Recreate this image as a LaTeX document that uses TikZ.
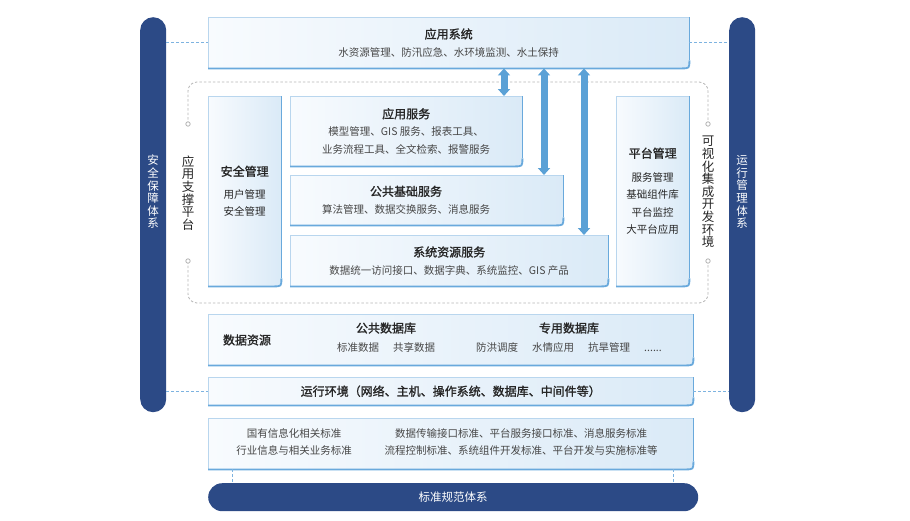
\documentclass[tikz,border=0pt]{standalone}
\usepackage{fontspec}
\setmainfont{Noto Sans CJK SC}
\newfontface\medfont{Noto Sans CJK SC}[FakeBold=1.4]
\usetikzlibrary{arrows.meta,backgrounds,positioning}

\definecolor{navy}{HTML}{2C4A86}
\definecolor{arrowblue}{HTML}{5BA1D6}
\definecolor{panelL}{HTML}{F8FBFE}
\definecolor{panelR}{HTML}{DAEAF7}
\definecolor{panelline}{HTML}{B9D6EE}
\definecolor{paneledge}{HTML}{69A9DC}
\definecolor{linkblue}{HTML}{7DB3E0}
\definecolor{dashgray}{HTML}{B5B5B5}
\definecolor{ttlc}{HTML}{262626}
\definecolor{itmc}{HTML}{474747}

\newcommand{\ttl}{\fontsize{12}{14}\medfont\color{ttlc}}
\tikzstyle{panel} = [rectangle, inner sep=0pt, anchor=north west, align=center,
    text=itmc, font=\fontsize{10.5}{17.5}\selectfont]
\tikzstyle{txt} = [inner sep=0pt, align=center, text=itmc, font=\fontsize{10.5}{17.5}\selectfont]
\tikzstyle{pillar} = [rectangle, fill=navy, rounded corners=13pt, inner sep=0pt,
    anchor=north west, minimum width=26pt, minimum height=395pt]
\tikzstyle{vtext} = [align=center, inner sep=0pt, font=\fontsize{11.5}{12.6}\selectfont]
\tikzstyle{link} = [draw=linkblue, densely dashed, line width=0.8pt]
\tikzstyle{frame} = [draw=dashgray, dash pattern=on 2.5pt off 2pt, line width=0.8pt, rounded corners=9pt]
\tikzstyle{bigarrow} = [draw=arrowblue, line width=7pt,
    {Triangle[width=12pt,length=7pt]}-{Triangle[width=12pt,length=7pt]}]

% box with one round corner, drawn from the node's anchors
\newcommand{\panelbox}[1]{%
  \shade[left color=panelL, right color=panelR]
    (#1.north west) -- (#1.north east) -- ([yshift=8pt]#1.south east)
    .. controls (#1.south east) .. ([xshift=-8pt]#1.south east) -- (#1.south west) -- cycle;
  \draw[panelline, line width=0.8pt] (#1.south west) -- (#1.north west) -- (#1.north east);
  \draw[paneledge, line width=1pt] (#1.north east) -- ([yshift=8pt]#1.south east);
  \draw[paneledge, line width=1.8pt] ([yshift=8pt]#1.south east)
    .. controls (#1.south east) .. ([xshift=-8pt]#1.south east) -- (#1.south west);
}

\begin{document}
\begin{tikzpicture}[x=1pt, y=-1pt]
\useasboundingbox (0,0) rectangle (910,520);

% side pillars
\node[pillar] (lpillar) at (140,17) {};
\node[pillar] (rpillar) at (729,17) {};
\node[vtext, text=white] (ltext) at (153,192) {安\\全\\保\\障\\体\\系};
\node[vtext, text=white] (rtext) at (742,192) {运\\行\\管\\理\\体\\系};

% application layer
\node[panel, minimum width=481pt, minimum height=51pt] (appsys) at (208,17)
    {{\ttl 应用系统}\\ 水资源管理、防汛应急、水环境监测、水土保持};

% support platform
\node[panel, text=ttlc, minimum width=73pt, minimum height=190pt] (secmgmt) at (208,96)
    {{\ttl 安全管理}\\[5pt] 用户管理\\ 安全管理};
\node[panel, minimum width=232pt, minimum height=70pt] (appsvc) at (290,96)
    {{\ttl 应用服务}\\ 模型管理、GIS 服务、报表工具、\\ 业务流程工具、全文检索、报警服务};
\node[panel, minimum width=273pt, minimum height=50pt] (basesvc) at (290,175) {};
\node[txt] (basetxt) at (406,200) {{\ttl 公共基础服务}\\ 算法管理、数据交换服务、消息服务};
\node[panel, minimum width=318pt, minimum height=51pt] (sysres) at (290,235)
    {{\ttl 系统资源服务}\\ 数据统一访问接口、数据字典、系统监控、GIS 产品};
\node[panel, text=ttlc, minimum width=73pt, minimum height=190pt] (platform) at (616,96)
    {{\ttl 平台管理}\\[6pt] 服务管理\\ 基础组件库\\ 平台监控\\ 大平台应用};

\draw[frame] (188,124) -- (188,82) -- (708,82) -- (708,124);
\draw[frame] (188,261) -- (188,303) -- (708,303) -- (708,261);
\foreach \p in {(188,124),(188,261),(708,124),(708,261)}
    \draw[dashgray, fill=white, line width=0.8pt] \p circle (2.2pt);
\node[vtext, text=ttlc, font=\fontsize{12.5}{12.6}\selectfont] (appplat) at (188,193)
    {应\\用\\支\\撑\\平\\台};
\node[vtext, text=ttlc, font=\fontsize{12.5}{12.6}\selectfont] (devenv) at (708,192)
    {可\\视\\化\\集\\成\\开\\发\\环\\境};

% data, environment, standards
\node[panel, minimum width=485pt, minimum height=51pt] (data) at (208,314) {};
\node[txt] (datatxt) at (247,340) {\ttl 数据资源};
\node[txt] (pubdb) at (386,337.5) {{\ttl 公共数据库}\\[1.5pt] 标准数据\hspace{14pt}共享数据};
\node[txt] (privdb) at (569,337.5)
    {{\ttl 专用数据库}\\[1.5pt] 防洪调度\hspace{14pt}水情应用\hspace{14pt}抗旱管理\hspace{14pt}......};
\node[panel, minimum width=485pt, minimum height=28pt] (runenv) at (208,377)
    {\ttl 运行环境（网络、主机、操作系统、数据库、中间件等）};
\node[panel, minimum width=485pt, minimum height=51pt] (std) at (208,418) {};
\node[txt] (stdleft) at (294,442) {国有信息化相关标准\\ 行业信息与相关业务标准};
\node[txt] (stdright) at (521,442)
    {数据传输接口标准、平台服务接口标准、消息服务标准\\ 流程控制标准、系统组件开发标准、平台开发与实施标准等};
\node[rectangle, fill=navy, rounded corners=14pt, inner sep=0pt, anchor=north west,
    minimum width=490pt, minimum height=28pt, text=white,
    font=\fontsize{11.5}{14}\selectfont] (stdbar) at (208,483) {标准规范体系};

\begin{scope}[on background layer]
  \foreach \b in {appsys,secmgmt,appsvc,basesvc,sysres,platform,data,runenv,std}
      {\panelbox{\b}}
\end{scope}

% connectors
\coordinate (a1) at (504,0);
\coordinate (a2) at (544,0);
\coordinate (a3) at (584,0);
\coordinate (s1) at (232,0);
\coordinate (s2) at (673,0);
\draw[bigarrow] (appsys.south -| a1) -- (appsvc.north -| a1);
\draw[bigarrow] (appsys.south -| a2) -- (basesvc.north -| a2);
\draw[bigarrow] (appsys.south -| a3) -- (sysres.north -| a3);
\draw[link] (lpillar.east |- appsys.west) -- (appsys.west);
\draw[link] (appsys.east) -- (rpillar.west |- appsys.east);
\draw[link] (lpillar.east |- runenv.west) -- (runenv.west);
\draw[link] (runenv.east) -- (rpillar.west |- runenv.east);
\draw[link] (std.south -| s1) -- (stdbar.north -| s1);
\draw[link] (std.south -| s2) -- (stdbar.north -| s2);
\end{tikzpicture}
\end{document}
